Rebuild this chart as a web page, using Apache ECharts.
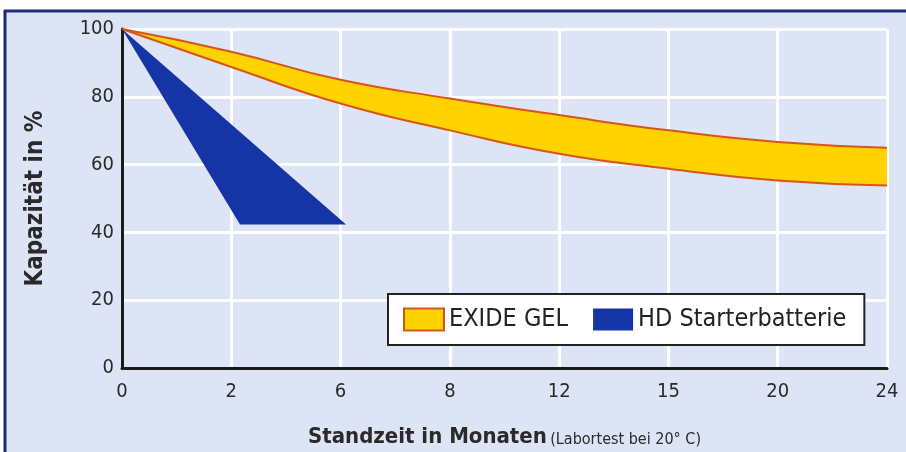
<!DOCTYPE html>
<html>
<head>
<meta charset="utf-8">
<script src="https://cdn.jsdelivr.net/npm/echarts@6/dist/echarts.min.js"></script>
<style>
  html, body { margin: 0; padding: 0; background: #ffffff; }
  #chart { width: 906px; height: 452px; }
</style>
</head>
<body>
<div id="chart"></div>
<script>
// Monatsachse: gleichmaessig verteilte Stuetzstellen
const monthLabels = ['0', '2', '6', '8', '12', '15', '20', '24'];

// EXIDE GEL Band (obere / untere Kante, Kapazitaet in %)
const gelUpper = [100, 93.3, 85.0, 79.5, 74.6, 70.1, 66.7, 65.0];
const gelLower = [100, 88.8, 78.0, 70.1, 63.2, 58.8, 55.3, 53.8];

// HD Starterbatterie Dreieck (x als Position zwischen den Stuetzstellen)
const hdX = [0, 1.08, 2.05];
const hdY = [100, 42.3, 42.3];

const YELLOW = '#ffd200';
const ORANGE = '#d8541c';
const BLUE = '#1534a6';
const BG = '#dde4f6';
const FONT = "'DejaVu Sans Condensed', 'Liberation Sans Narrow', sans-serif";

const chart = echarts.init(document.getElementById('chart'), null, { renderer: 'canvas' });

const option = {
  animation: false,
  backgroundColor: '#ffffff',
  graphic: [
    { type: 'rect', z: -10, shape: { x: 5, y: 10, width: 901, height: 442 }, style: { fill: BG } },
    { type: 'line', z: -9, shape: { x1: 4, y1: 11, x2: 906, y2: 11 }, style: { stroke: '#1c2a7e', lineWidth: 3 } },
    { type: 'line', z: -9, shape: { x1: 5, y1: 10, x2: 5, y2: 452 }, style: { stroke: '#1c2a7e', lineWidth: 3 } }
  ],
  grid: { left: 122, top: 29, right: 19, bottom: 84, outerBoundsMode: 'none' },
  legend: {
    left: 388,
    top: 294,
    icon: 'rect',
    itemWidth: 40,
    itemHeight: 22,
    itemGap: 25,
    padding: [13, 18, 13, 15],
    backgroundColor: '#ffffff',
    borderColor: '#222222',
    borderWidth: 2,
    textStyle: { fontFamily: FONT, fontSize: 25, color: '#222222' },
    data: [
      { name: 'EXIDE GEL', itemStyle: { color: YELLOW, borderColor: ORANGE, borderWidth: 2 } },
      { name: 'HD Starterbatterie', itemStyle: { color: BLUE, borderWidth: 0 } }
    ]
  },
  xAxis: [
    {
      type: 'category',
      data: monthLabels,
      boundaryGap: false,
      name: '{b|Standzeit in Monaten} {s|(Labortest bei 20° C)}',
      nameLocation: 'middle',
      nameGap: 58,
      nameTextStyle: {
        rich: {
          b: { fontFamily: FONT, fontSize: 22, fontWeight: 'bold', color: '#2a2a2a' },
          s: { fontFamily: FONT, fontSize: 16, color: '#2a2a2a', padding: [5, 0, 0, 0] }
        }
      },
      axisLine: { lineStyle: { color: '#1a1a1a', width: 3 } },
      axisTick: { show: false },
      axisLabel: { interval: 0, margin: 14, fontFamily: FONT, fontSize: 20, color: '#2a2a2a' },
      splitLine: { show: true, interval: 0, lineStyle: { color: '#ffffff', width: 3 } }
    },
    {
      type: 'value',
      min: 0,
      max: monthLabels.length - 1,
      show: false,
      splitLine: { show: false }
    }
  ],
  yAxis: {
    type: 'value',
    min: 0,
    max: 100,
    interval: 20,
    name: 'Kapazität in %',
    nameLocation: 'middle',
    nameGap: 74,
    nameTextStyle: { fontFamily: FONT, fontSize: 24, fontWeight: 'bold', color: '#2a2a2a' },
    axisLine: { show: true, lineStyle: { color: '#1a1a1a', width: 3 } },
    axisTick: { show: false },
    axisLabel: { margin: 8, fontFamily: FONT, fontSize: 20, color: '#2a2a2a' },
    splitLine: { show: true, lineStyle: { color: '#ffffff', width: 3 } }
  },
  series: [
    {
      name: 'gelBase',
      type: 'line',
      stack: 'gel',
      smooth: true,
      symbol: 'none',
      lineStyle: { color: ORANGE, width: 2 },
      data: gelLower,
      z: 3
    },
    {
      name: 'EXIDE GEL',
      type: 'line',
      stack: 'gel',
      smooth: true,
      symbol: 'none',
      lineStyle: { color: ORANGE, width: 2 },
      itemStyle: { color: YELLOW },
      areaStyle: { color: YELLOW, opacity: 1 },
      data: gelUpper.map(function (v, i) { return v - gelLower[i]; }),
      z: 2
    },
    {
      name: 'HD Starterbatterie',
      type: 'custom',
      coordinateSystem: 'cartesian2d',
      xAxisIndex: 1,
      itemStyle: { color: BLUE },
      encode: { x: 0, y: 1 },
      data: hdX.map(function (x, i) { return [x, hdY[i]]; }),
      renderItem: function (params, api) {
        if (params.dataIndex !== 0) return;
        const pts = hdX.map(function (x, i) { return api.coord([x, hdY[i]]); });
        return { type: 'polygon', shape: { points: pts }, style: { fill: BLUE } };
      },
      z: 4
    }
  ]
};

chart.setOption(option);
</script>
</body>
</html>
